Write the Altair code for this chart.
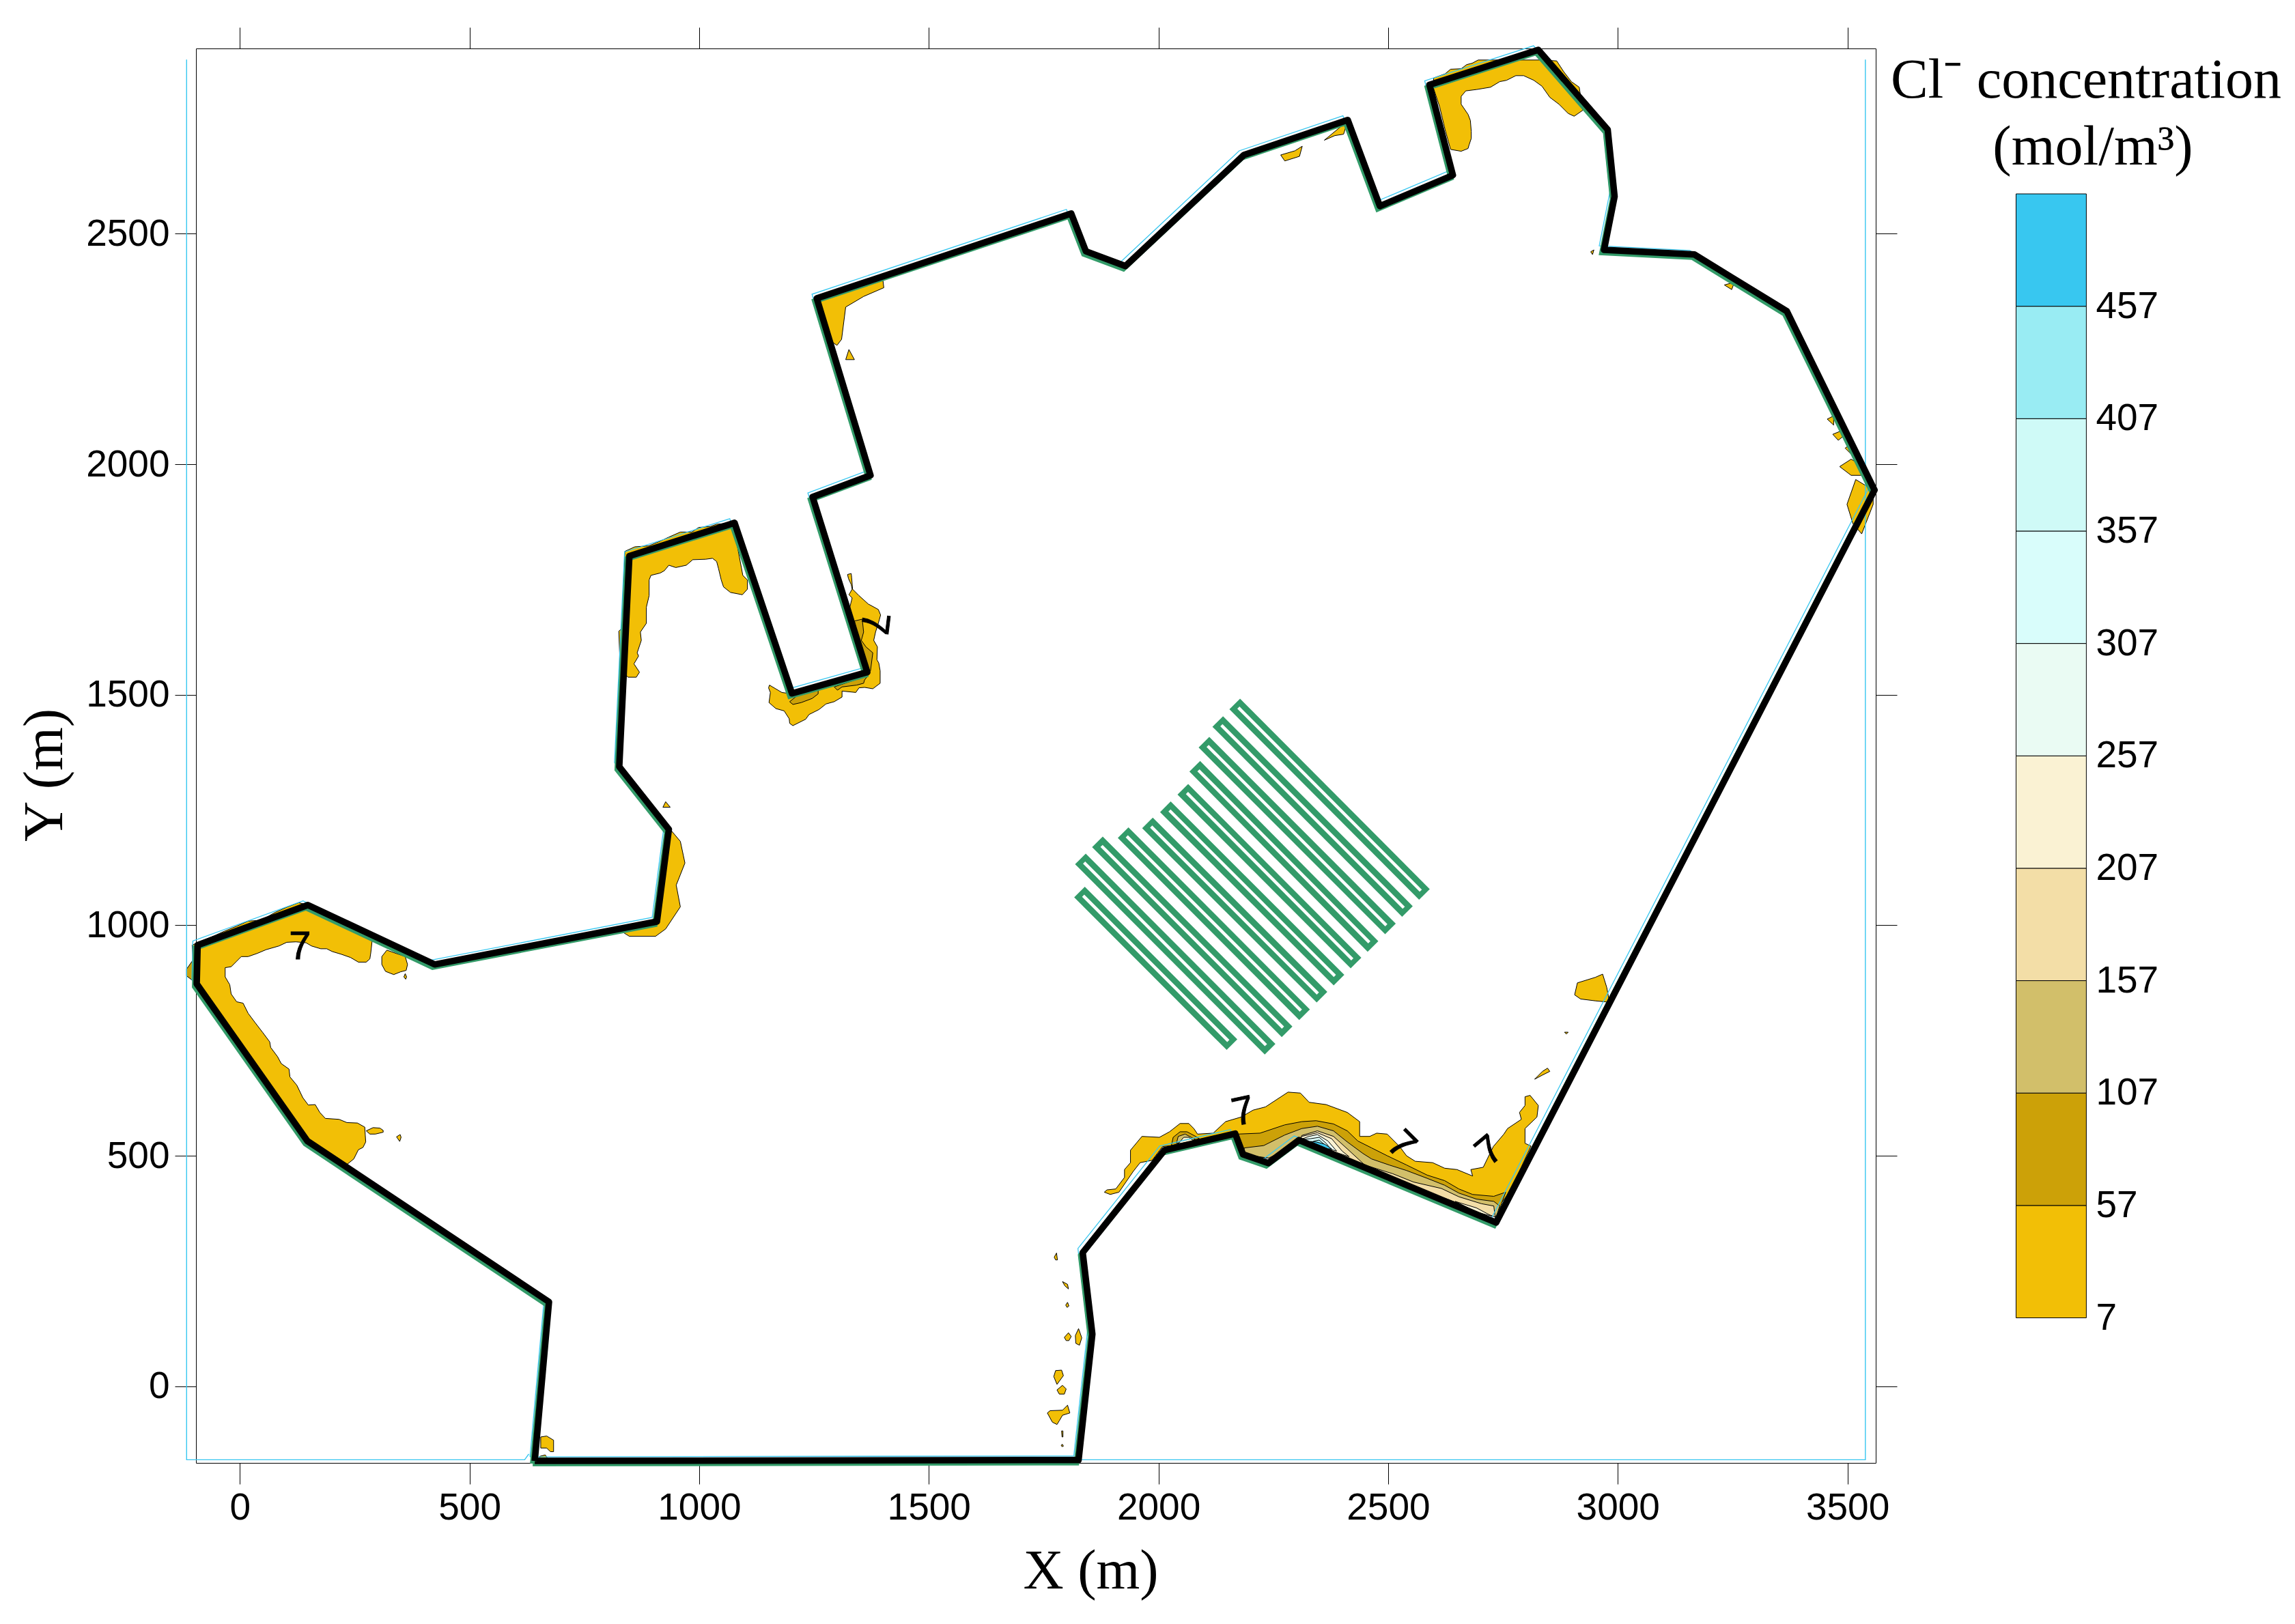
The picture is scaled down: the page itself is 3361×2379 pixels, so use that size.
import altair as alt
import pandas as pd

# ---------- axes ----------
x_domain = [-95.6, 3561.6]
y_domain = [-166.3, 2902.0]
x_ticks = [0, 500, 1000, 1500, 2000, 2500, 3000, 3500]
y_ticks = [0, 500, 1000, 1500, 2000, 2500]

# ---------- model boundary (m) ----------
boundary = [(642,-162),(673,183),(147,532),(-94,873),(-92,957),(148,1044),(424,915),(908,1008),(934,1208),
            (826,1344),(848,1801),(1077,1873),(1202,1503),(1366,1549),(1247,1929),(1373,1976),(1256,2360),
            (1810,2544),(1842,2462),(1928,2430),(2186,2671),(2412,2747),(2482,2560),(2641,2627),(2590,2823),
            (2827,2899),(2978,2726),(2993,2581),(2970,2465),(3167,2455),(3368,2332),(3559,1944),(2735,355),
            (2306,534),(2239,484),(2184,503),(2167,548),(2013,512),(1835,290),(1856,113),(1826,-160),(642,-162)]
cyan_left = [(-116,2878),(-116,-159.5),(620,-159.5),(629,-147)]
cyan_right = [(3539,2878),(3539,-159.5),(1830,-159.5)]

# ---------- drain fingers (m): outer tube ends and inner hole ends ----------
tube_top = [(1828,1072),(1830,1144),(1867,1181),(1923,1201),(1976,1222),(2015,1257),(2053,1295),(2079,1345),(2099,1397),(2129,1442),(2166,1480)]
tube_end = [(2160,741),(2243,731),(2280,769),(2318,806),(2356,844),(2393,881),(2430,918),(2467,954),(2505,992),(2542,1030),(2579,1067)]
hole_top = [(1836,1064),(1838,1136),(1876,1172),(1931,1193),(1984,1214),(2024,1249),(2062,1287),(2087,1336),(2107,1389),(2137,1434),(2174,1472)]
hole_end = [(2152,749),(2234,740),(2271,778),(2310,815),(2347,852),(2384,890),(2422,926),(2459,963),(2496,1000),(2534,1038),(2571,1075)]

# ---------- concentration legend ----------
levels = [7, 57, 107, 157, 207, 257, 307, 357, 407, 457, 507]
band_colors = ["#F2BF06", "#CCA108", "#D2BF6A", "#F3DEA7", "#FAF2D3", "#EAFBF3", "#D9FDFB", "#CFFAF7", "#99ECF3", "#38C7F0"]
Y1, Y2, Y3, Y4, Y5, Y6, Y7 = band_colors[:7]
Y9, Y10 = band_colors[8], band_colors[9]

# ---------- concentration patches (m) ----------
west = [(-104,957),(-81,967),(-54,978),(-34,987),(-7,998),(18,1009),(47,1011),(77,1028),(102,1039),(128,1049),(148,1044),(288,967),(285,940),(283,927),(275,920),(258,920),(241,930),(221,937),(201,943),(189,949),(176,949),(156,955),(144,962),(122,964),(102,963),(85,955),(57,947),(38,939),(18,932),(3,932),(-7,922),(-19,910),(-32,908),(-32,888),(-22,871),(-19,851),(-7,834),(7,831),(18,809),(33,789),(50,767),(65,747),(67,735),(82,715),(90,700),(107,688),(109,671),(124,653),(137,626),(149,610),(164,611),(174,594),(186,581),(216,579),(233,572),(256,571),(272,562),(273,545),(274,530),(268,518),(258,513),(248,493),(233,481),(146,532),(-94,871),(-99,875),(-104,957)]
west_dark = [(-116,905),(-104,922),(-99,881),(-104,881),(-116,890)]
west_b = [(320,946),(309,932),(309,915),(317,900),(335,893),(350,899),(362,902),(365,915),(360,932)]
west_c = [(360,895),(357,888),(361,883),(363,888)]
west_d = [(275,554),(290,561),(305,560),(312,555),(312,551),(295,547),(283,547)]
west_e = [(341,541),(349,546),(351,540),(348,531)]
nw = [(838,1811),(860,1821),(890,1823),(910,1831),(934,1842),(959,1853),(984,1853),(999,1863),(1024,1865),(1038,1870),(1077,1873),(1083,1823),(1095,1759),(1105,1749),(1105,1729),(1094,1717),(1068,1722),(1053,1734),(1048,1749),(1042,1774),(1038,1789),(1029,1796),(1014,1794),(986,1793),(972,1781),(949,1776),(934,1781),(924,1769),(915,1764),(895,1759),(891,1749),(891,1715),(885,1690),(885,1655),(872,1636),(874,1618),(865,1591),(868,1584),(858,1567),(870,1549),(863,1538),(845,1538),(828,1557),(825,1638),(833,1645)]
bay = [(1153,1521),(1180,1505),(1202,1502),(1366,1542),(1328,1690),(1333,1710),(1326,1717),(1333,1729),(1331,1739),(1325,1752),(1323,1761),(1331,1763),(1332,1754),(1334,1729),(1348,1715),(1368,1697),(1390,1685),(1395,1673),(1390,1655),(1384,1636),(1380,1618),(1388,1604),(1387,1576),(1391,1569),(1394,1552),(1394,1525),(1378,1513),(1360,1516),(1348,1515),(1341,1505),(1311,1508),(1311,1495),(1294,1485),(1276,1480),(1261,1468),(1239,1457),(1232,1447),(1204,1433),(1197,1438),(1196,1448),(1185,1465),(1167,1470),(1152,1483),(1155,1505),(1151,1515)]
bay_d1 = [(1197,1485),(1212,1497),(1259,1510),(1259,1502),(1246,1492),(1222,1483),(1204,1479)]
bay_d2 = [(1294,1517),(1368,1542),(1360,1532),(1358,1525),(1343,1521),(1311,1517),(1301,1510)]
bay_d3 = [(1338,1660),(1355,1664),(1358,1636),(1353,1618),(1363,1604),(1378,1591),(1373,1552),(1363,1547)]
ne = [(2599,2838),(2624,2847),(2636,2857),(2659,2858),(2671,2867),(2683,2870),(2696,2877),(2837,2877),(2867,2875),(2882,2852),(2899,2830),(2916,2818),(2924,2768),(2905,2755),(2892,2761),(2872,2781),(2852,2796),(2835,2820),(2817,2833),(2795,2843),(2778,2843),(2758,2833),(2743,2830),(2723,2818),(2693,2813),(2669,2810),(2659,2798),(2659,2781),(2674,2759),(2679,2746),(2681,2722),(2681,2707),(2676,2692),(2674,2685),(2659,2679),(2636,2683),(2624,2726),(2612,2776),(2599,2815)]
south = [(1882,421),(1888,426),(1907,428),(1926,453),(1926,470),(1939,485),(1939,512),(1964,542),(2002,540),(2024,552),(2047,570),(2066,570),(2077,559),(2085,547),(2119,549),(2146,574),(2180,584),(2206,599),(2233,606),(2282,638),(2309,636),(2328,616),(2365,611),(2411,594),(2438,574),(2438,542),(2460,542),(2475,549),(2498,547),(2525,520),(2540,500),(2559,488),(2597,485),(2623,473),(2650,470),(2684,456),(2680,470),(2707,475),(2729,520),(2752,547),(2760,559),(2790,579),(2786,594),(2798,609),(2798,628),(2809,631),(2827,609),(2824,584),(2798,559),(2798,527),(2811,521),(2767,426),(2741,389),(2735,367),(2305,527),(2239,495),(2183,503),(2168,550),(2085,535),(2028,522),(2009,520),(1986,490),(1960,485),(1945,466),(1914,421),(1895,416)]
south_57 = [(2172,547),(2221,549),(2275,567),(2312,574),(2343,576),(2381,569),(2411,554),(2434,532),(2464,517),(2498,500),(2540,480),(2585,458),(2623,446),(2654,428),(2684,416),(2730,412),(2756,421),(2745,391),(2735,367),(2305,527),(2239,495),(2183,503)]
south_107 = [(2187,517),(2229,522),(2275,545),(2312,559),(2346,564),(2381,554),(2411,530),(2445,505),(2464,493),(2502,480),(2540,468),(2585,451),(2623,436),(2654,419),(2692,406),(2730,401),(2743,391),(2735,367),(2305,527),(2240,495),(2183,503)]
south_157 = [(2312,544),(2346,554),(2381,542),(2411,515),(2449,480),(2510,461),(2555,443),(2616,429),(2654,411),(2703,396),(2730,391),(2733,367),(2305,527)]
south_207 = [(2646,401),(2692,387),(2726,369),(2695,377)]
peak_207 = [(2312,542),(2346,550),(2377,537),(2400,510),(2415,498),(2306,534)]
peak_257 = [(2328,542),(2346,546),(2369,532),(2388,510),(2306,534)]
peak_307 = [(2331,537),(2350,540),(2365,527),(2377,512),(2312,535)]
peak_407 = [(2339,532),(2350,534),(2364,522),(2373,515),(2330,528)]
peak_457 = [(2331,531),(2343,530),(2362,525),(2377,515),(2369,515)]
ring_57 = [(2028,522),(2032,540),(2047,552),(2062,552),(2081,542),(2089,537)]
ring_107 = [(2039,527),(2043,542),(2058,547),(2073,539),(2081,535)]
ring_207 = [(2043,526),(2055,540),(2066,540),(2077,532)]
se_a = [(2819,666),(2836,683),(2847,690),(2852,683),(2836,675)]
se_b = [(2906,849),(2912,875),(2951,887),(2967,894),(2976,865),(2982,833),(2951,836),(2919,840)]
se_c = [(2884,768),(2892,768),(2888,764)]
top1 = [(1256,2360),(1310,2373),(1358,2398),(1399,2408),(1402,2383),(1358,2364),(1319,2341),(1310,2271),(1300,2258),(1281,2271)]
top1b = [(1326,2249),(1338,2227),(1319,2227)]
mid = [(937,1208),(959,1182),(969,1135),(950,1087),(959,1040),(927,992),(905,976),(848,976),(832,986),(908,1008),(925,1100)]
midb = [(927,1268),(937,1256),(921,1256)]
top2 = [(2266,2671),(2297,2680),(2313,2690),(2307,2668),(2275,2658)]
top3 = [(2361,2703),(2412,2745),(2403,2716),(2384,2713)]
east1 = [(3483,1995),(3508,2011),(3531,1998),(3541,1976),(3508,1976)]
east2 = [(3499,1913),(3518,1967),(3556,1944),(3556,1913),(3531,1849),(3512,1871)]
east3 = [(3456,2098),(3470,2105),(3470,2085)]
east4 = [(3468,2065),(3485,2072),(3490,2060),(3480,2052)]
east5 = [(3495,2035),(3505,2042),(3508,2022)]
ne2 = [(3232,2389),(3254,2395),(3248,2379)]
ne3 = [(2941,2461),(2948,2465),(2945,2455)]
ss_a = [(1773,280),(1778,289),(1780,274),(1776,274)]
ss_b = [(1791,227),(1802,221),(1804,211),(1796,218)]
ss_c = [(1798,176),(1802,182),(1805,174),(1801,171)]
ss_d = [(1795,106),(1804,116),(1810,108),(1805,99),(1799,99)]
ss_e = [(1819,110),(1826,125),(1833,105),(1828,89),(1820,93)]
ss_f = [(1772,21),(1776,34),(1789,35),(1793,23),(1779,4)]
ss_g = [(1779,-8),(1791,2),(1799,-6),(1795,-17),(1784,-17)]
ss_h = [(1758,-58),(1764,-53),(1791,-52),(1802,-41),(1807,-58),(1791,-63),(1784,-75),(1779,-83),(1769,-78)]
ss_i = [(1789,-97),(1792,-97),(1792,-110),(1790,-110)]
ss_j = [(1788,-128),(1791,-126),(1793,-130),(1790,-131)]
sw_a = [(655,-110),(668,-108),(683,-117),(683,-142),(676,-142),(668,-134),(655,-134)]
sw_b = [(653,-160),(653,-152),(665,-149),(672,-160)]

patches = [(west, Y1), (west_dark, Y2), (west_b, Y1), (west_c, Y1), (west_d, Y1), (west_e, Y1), (nw, Y1), (bay, Y1),
           (bay_d1, Y2), (bay_d2, Y2), (bay_d3, Y2), (ne, Y1), (south, Y1), (south_57, Y2), (south_107, Y3),
           (south_157, Y4), (south_207, Y5), (peak_207, Y5), (peak_257, Y6), (peak_307, Y7), (peak_407, Y9),
           (peak_457, Y10), (ring_57, Y2), (ring_107, Y3), (ring_207, Y5), (se_a, Y1), (se_b, Y1), (se_c, Y1), (top1, Y1),
           (top1b, Y1), (mid, Y1), (midb, Y1), (top2, Y1), (top3, Y1), (east1, Y1), (east2, Y1), (east3, Y1),
           (east4, Y1), (east5, Y1), (ne2, Y1), (ne3, Y1), (ss_a, Y1), (ss_b, Y1), (ss_c, Y1), (ss_d, Y1),
           (ss_e, Y1), (ss_f, Y1), (ss_g, Y1), (ss_h, Y1), (ss_i, Y1), (ss_j, Y1), (sw_a, Y1), (sw_b, Y1)]

# ---------- contour labels ----------
label_x = [131, 1380, 2185, 2528, 2722]
label_y = [952, 1655, 594, 522, 510]
label_angle = [0, 97, 348, 45, 320]

# ---------- tables ----------
rows = []
for pid, (pts, col) in enumerate(patches):
    for seq, (px, py) in enumerate(list(pts) + [pts[0]]):
        rows.append({"pid": pid, "seq": seq, "x": px, "y": py, "color": col})
patch_df = pd.DataFrame(rows)
boundary_df = pd.DataFrame([{"seq": i, "x": p[0], "y": p[1]} for i, p in enumerate(boundary)])
cyan_rows = []
for pid, line in enumerate([cyan_left, cyan_right]):
    for i, p in enumerate(line):
        cyan_rows.append({"pid": pid, "seq": i, "x": p[0], "y": p[1]})
cyan_df = pd.DataFrame(cyan_rows)
def seg_df(a, b):
    return pd.DataFrame([{"pid": i, "seq": s, "x": p[0], "y": p[1]}
                         for i, (p0, p1) in enumerate(zip(a, b)) for s, p in enumerate((p0, p1))])
tube_df = seg_df(tube_top, tube_end)
hole_df = seg_df(hole_top, hole_end)
labels_df = pd.DataFrame({"x": label_x, "y": label_y, "angle": label_angle, "t": ["7"] * 5})
legend_df = pd.DataFrame({"lo": levels[:-1], "hi": levels[1:], "c": band_colors, "a": 0, "b": 1})
legend_lab = pd.DataFrame({"v": levels[:-1], "a": 1, "t": [str(v) for v in levels[:-1]]})

SANS = "Liberation Sans"
SERIF = "Liberation Serif"
W, H = 2460, 2072

def X(axis=None):
    return alt.X("x:Q", scale=alt.Scale(domain=x_domain, nice=False, zero=False), axis=axis)
def Y(axis=None):
    return alt.Y("y:Q", scale=alt.Scale(domain=y_domain, nice=False, zero=False), axis=axis)

common = dict(domain=False, grid=False, tickSize=31, tickColor="black", tickWidth=1)
x_bottom = alt.Axis(orient="bottom", values=x_ticks, format="d", title="X (m)", labelFont=SANS, labelFontSize=55,
                    labelColor="black", labelPadding=8, titleFont=SERIF, titleFontSize=82,
                    titleFontWeight="normal", titleColor="black", titleX=1310, titleY=118, labelFlush=False, **common)
y_left = alt.Axis(orient="left", values=y_ticks, format="d", title="Y (m)", labelFont=SANS, labelFontSize=55,
                  labelColor="black", labelPadding=8, titleFont=SERIF, titleFontSize=82,
                  titleFontWeight="normal", titleColor="black", titleX=-180, titleY=1064, titleAngle=270, **common)
x_top = alt.Axis(orient="top", values=x_ticks, labels=False, title=None, **common)
y_right = alt.Axis(orient="right", values=y_ticks, labels=False, title=None, **common)

patch_layer = alt.Chart(patch_df).mark_line(stroke="black", strokeWidth=1, strokeJoin="round").encode(
    x=X(x_bottom), y=Y(y_left), order="seq:Q", detail="pid:N",
    fill=alt.Fill("color:N", scale=None))
frame_ticks = alt.Chart(cyan_df).mark_line(stroke="#38C7F0", strokeWidth=1.4).encode(
    x=X(x_top), y=Y(y_right), order="seq:Q", detail="pid:N")
cyan_edge = alt.Chart(boundary_df).mark_line(stroke="#38C7F0", strokeWidth=1.3, xOffset=-7, yOffset=-6).encode(
    x=X(), y=Y(), order="seq:Q")
green_edge = alt.Chart(boundary_df).mark_line(stroke="#339B69", strokeWidth=8, xOffset=-3, yOffset=4).encode(
    x=X(), y=Y(), order="seq:Q")
tubes = alt.Chart(tube_df).mark_line(stroke="#339B69", strokeWidth=22).encode(
    x=X(), y=Y(), order="seq:Q", detail="pid:N")
holes = alt.Chart(hole_df).mark_line(stroke="white", strokeWidth=4.5).encode(
    x=X(), y=Y(), order="seq:Q", detail="pid:N")
black_edge = alt.Chart(boundary_df).mark_line(stroke="black", strokeWidth=9.5, strokeJoin="round").encode(
    x=X(), y=Y(), order="seq:Q")
contour_labels = alt.Chart(labels_df).mark_text(font=SANS, fontSize=58, color="black", stroke="black",
                                                strokeWidth=1, align="center", baseline="middle").encode(
    x=X(), y=Y(), text="t:N", angle=alt.Angle("angle:Q", scale=None))

lx = alt.Scale(domain=[0, 1], range=[2665.5, 2768.4])
ly = alt.Scale(domain=[7, 507], range=[1859.5, 213])
legend_bar = alt.Chart(legend_df).mark_rect(stroke="black", strokeWidth=1).encode(
    x=alt.X("a:Q", scale=lx, axis=None), x2="b:Q",
    y=alt.Y("lo:Q", scale=ly, axis=None), y2="hi:Q",
    fill=alt.Fill("c:N", scale=None))
legend_text = alt.Chart(legend_lab).mark_text(font=SANS, fontSize=55, color="black", align="left",
                                              baseline="middle", dx=14).encode(
    x=alt.X("a:Q", scale=lx, axis=None), y=alt.Y("v:Q", scale=ly, axis=None), text="t:N")
title1 = alt.Chart(pd.DataFrame({"t": ["Cl\u207b concentration"]})).mark_text(
    font=SERIF, fontSize=82, color="black", align="center", baseline="alphabetic").encode(
    x=alt.value(2768), y=alt.value(72), text="t:N")
title2 = alt.Chart(pd.DataFrame({"t": ["(mol/m\u00b3)"]})).mark_text(
    font=SERIF, fontSize=82, color="black", align="center", baseline="alphabetic").encode(
    x=alt.value(2778), y=alt.value(170), text="t:N")

chart = alt.layer(patch_layer, frame_ticks, cyan_edge, green_edge, tubes, holes, black_edge, contour_labels,
                  legend_bar, legend_text, title1, title2).resolve_scale(
    x="independent", y="independent", fill="independent"
).properties(
    width=W, height=H,
    autosize=alt.AutoSizeParams(type="none"),
    padding={"left": 279, "top": 63, "right": 606, "bottom": 228},
    background="white",
).configure_view(stroke="black", strokeWidth=1)

chart.save("out.html", embed_options={"renderer": "svg", "actions": False})
